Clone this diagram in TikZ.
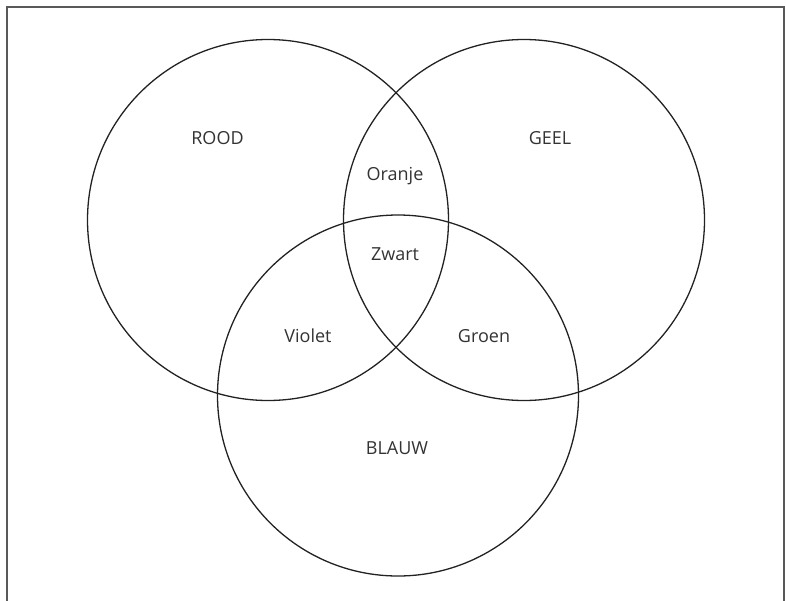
\documentclass[tikz,border=0pt]{standalone}
\usepackage{fontspec}
\setmainfont{Open Sans}
\definecolor{txt}{HTML}{333333}
\definecolor{ln}{HTML}{222222}
\begin{document}
\begin{tikzpicture}[x=1pt,y=-1pt,
  set/.style={draw=ln,line width=1.3pt,circle,minimum size=361pt,inner sep=0pt},
  lbl/.style={anchor=base,text=txt,font=\fontsize{18}{20}\selectfont,inner sep=0pt}]
\useasboundingbox (0,0) rectangle (786,600);
\draw[draw=black!65,line width=2pt] (7,7) rectangle (784,602);
\node[set] (rood) at (268,220) {};
\node[set] (geel) at (524,220) {};
\node[set] (blauw) at (398,395.5) {};
\node[lbl] (troot) at (217.5,144) {ROOD};
\node[lbl] (tgeel) at (550,144) {GEEL};
\node[lbl] (toranje) at (395,180) {Oranje};
\node[lbl] (tzwart) at (395,260) {Zwart};
\node[lbl] (tviolet) at (308,342) {Violet};
\node[lbl] (tgroen) at (484,342) {Groen};
\node[lbl] (tblauw) at (397,454) {BLAUW};
\end{tikzpicture}
\end{document}
